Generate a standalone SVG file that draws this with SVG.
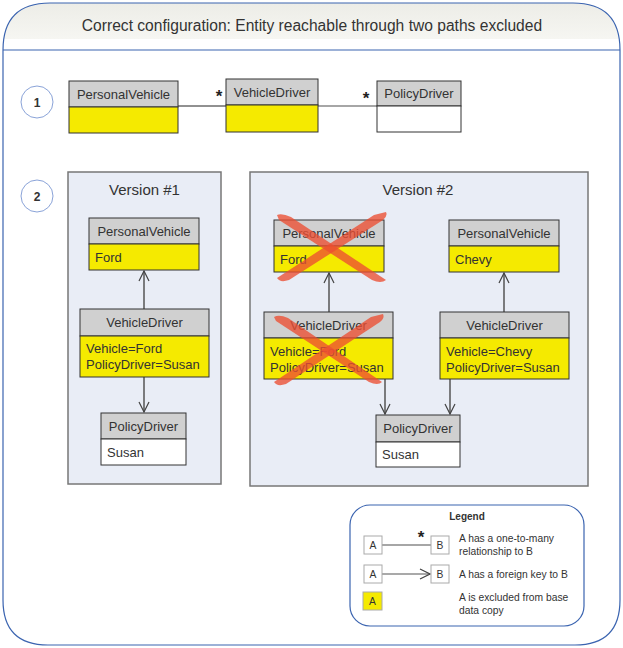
<svg xmlns="http://www.w3.org/2000/svg" width="623" height="648" viewBox="0 0 623 648">
<defs>
<linearGradient id="hg" x1="0" y1="0" x2="0" y2="1">
<stop offset="0" stop-color="#ececE6"/>
<stop offset="1" stop-color="#f6f6f2"/>
</linearGradient>
<clipPath id="fc">
<path d="M3,600 L3,50 Q3,3 50,3 L573,3 Q620,3 620,50 L620,600 Q620,645 575,645 L48,645 Q3,645 3,600 Z"/>
</clipPath>
<marker id="arr" viewBox="0 0 12 12" refX="11" refY="6" markerWidth="12" markerHeight="12" markerUnits="userSpaceOnUse" orient="auto">
<path d="M1,1 L11,6 L1,11" fill="none" stroke="#444" stroke-width="1.2"/>
</marker>
</defs>
<style>
text{font-family:"Liberation Sans",Arial,sans-serif;fill:#333}
.hd{fill:#d0d0d0;stroke:#333;stroke-width:1}
.yb{fill:#f5ea00;stroke:#333;stroke-width:1}
.wb{fill:#fff;stroke:#333;stroke-width:1}
.ver{fill:#e9edf6;stroke:#777;stroke-width:1.5}
.ht{font-size:13px;text-anchor:middle}
.bt{font-size:13px}
.con{stroke:#555;stroke-width:1.5;fill:none}
.num{fill:#fff;stroke:#8aa3d8;stroke-width:1}
.cross{fill:#ec4e32;fill-opacity:0.78}
.lg{font-size:10.3px}
.lb{fill:#fff;stroke:#aaa;stroke-width:1}
.star{font-size:17px;font-weight:bold;fill:#222;text-anchor:middle}
</style>

<g id="frame">
<rect x="0" y="0" width="623" height="39" fill="url(#hg)" clip-path="url(#fc)"/>
<path d="M3,600 L3,50 Q3,3 50,3 L573,3 Q620,3 620,50 L620,600 Q620,645 575,645 L48,645 Q3,645 3,600 Z" fill="none" stroke="#3b64b0" stroke-width="1.2"/>
<line x1="3" y1="50" x2="620" y2="50" stroke="#3b64b0" stroke-width="1.2"/>
<text x="312" y="31" font-size="15.6" text-anchor="middle" fill="#222">Correct configuration: Entity reachable through two paths excluded</text>
</g>

<g id="step1">
<circle class="num" cx="37" cy="102" r="16"/>
<text x="37" y="106.5" font-size="12" font-weight="bold" text-anchor="middle" fill="#222">1</text>
</g>
<g id="step2">
<circle class="num" cx="37" cy="196" r="16"/>
<text x="37" y="200.5" font-size="12" font-weight="bold" text-anchor="middle" fill="#222">2</text>
</g>

<g id="version1">
<rect class="ver" x="68" y="172" width="153" height="312"/>
<text x="144.5" y="195" font-size="15" text-anchor="middle">Version #1</text>
</g>
<g id="version2">
<rect class="ver" x="250" y="172" width="338" height="314"/>
<text x="418" y="195" font-size="15" text-anchor="middle">Version #2</text>
</g>

<g id="connectors">
<line x1="178" y1="106" x2="226" y2="106" stroke="#222" stroke-width="1"/>
<line x1="318" y1="106" x2="377" y2="106" stroke="#888" stroke-width="1.5"/>
<text class="star" x="219" y="102">*</text>
<text class="star" x="366" y="104">*</text>
<line class="con" x1="144" y1="309" x2="144" y2="271" marker-end="url(#arr)"/>
<line class="con" x1="144" y1="377" x2="144" y2="412" marker-end="url(#arr)"/>
<line class="con" x1="329" y1="312" x2="329" y2="273" marker-end="url(#arr)"/>
<line class="con" x1="504" y1="312" x2="504" y2="273" marker-end="url(#arr)"/>
<line class="con" x1="385" y1="379" x2="385" y2="414" marker-end="url(#arr)"/>
<line class="con" x1="450" y1="379" x2="450" y2="414" marker-end="url(#arr)"/>
</g>

<g id="r1-pv">
<rect class="hd" x="69" y="81" width="109" height="26"/>
<rect class="yb" x="69" y="107" width="109" height="26"/>
<text class="ht" x="123.5" y="99">PersonalVehicle</text>
</g>
<g id="r1-vd">
<rect class="hd" x="226" y="79" width="92" height="26"/>
<rect class="yb" x="226" y="105" width="92" height="27"/>
<text class="ht" x="272" y="97">VehicleDriver</text>
</g>
<g id="r1-pd">
<rect class="hd" x="377" y="81" width="84" height="25"/>
<rect class="wb" x="377" y="106" width="84" height="26"/>
<text class="ht" x="419" y="98">PolicyDriver</text>
</g>

<g id="v1-pv">
<rect class="hd" x="89" y="218" width="110" height="26"/>
<rect class="yb" x="89" y="244" width="110" height="26"/>
<text class="ht" x="144" y="235.5">PersonalVehicle</text>
<text class="bt" x="95" y="261.5">Ford</text>
</g>
<g id="v1-vd">
<rect class="hd" x="80" y="309" width="129" height="27"/>
<rect class="yb" x="80" y="336" width="129" height="41"/>
<text class="ht" x="144.5" y="327">VehicleDriver</text>
<text class="bt" x="86" y="352.5">Vehicle=Ford</text>
<text class="bt" x="86" y="368.5">PolicyDriver=Susan</text>
</g>
<g id="v1-pd">
<rect class="hd" x="101" y="413" width="85" height="26"/>
<rect class="wb" x="101" y="439" width="85" height="26"/>
<text class="ht" x="143.5" y="430.5">PolicyDriver</text>
<text class="bt" x="107" y="456.5">Susan</text>
</g>

<g id="v2-pv-ford">
<rect class="hd" x="274" y="220" width="110" height="26"/>
<rect class="yb" x="274" y="246" width="110" height="26"/>
<text class="ht" x="329" y="237.5">PersonalVehicle</text>
<text class="bt" x="280" y="263.5">Ford</text>
</g>
<g id="v2-pv-chevy">
<rect class="hd" x="449" y="220" width="110" height="26"/>
<rect class="yb" x="449" y="246" width="110" height="26"/>
<text class="ht" x="504" y="237.5">PersonalVehicle</text>
<text class="bt" x="455" y="263.5">Chevy</text>
</g>
<g id="v2-vd-ford">
<rect class="hd" x="264" y="312" width="129" height="26"/>
<rect class="yb" x="264" y="338" width="129" height="41"/>
<text class="ht" x="328.5" y="329.5">VehicleDriver</text>
<text class="bt" x="270" y="355.5">Vehicle=Ford</text>
<text class="bt" x="270" y="371.5">PolicyDriver=Susan</text>
</g>
<g id="v2-vd-chevy">
<rect class="hd" x="440" y="312" width="129" height="26"/>
<rect class="yb" x="440" y="338" width="129" height="41"/>
<text class="ht" x="504.5" y="329.5">VehicleDriver</text>
<text class="bt" x="446" y="355.5">Vehicle=Chevy</text>
<text class="bt" x="446" y="371.5">PolicyDriver=Susan</text>
</g>
<g id="v2-pd">
<rect class="hd" x="376" y="415" width="84" height="27"/>
<rect class="wb" x="376" y="442" width="84" height="25"/>
<text class="ht" x="418" y="432.5">PolicyDriver</text>
<text class="bt" x="382" y="458.5">Susan</text>
</g>

<g id="cross-pv">
<path class="cross" d="M277,215 Q282,213 291,217 L386,280 Q381,284 372,280 L279,220 Z"/>
<path class="cross" d="M386,212 Q388,216 383,220 L289,280 Q280,283 277,278 L374,215 Z"/>
</g>
<g id="cross-vd">
<path class="cross" d="M274,317 Q279,314 288,318 L382,382 Q378,386 369,382 L276,321 Z"/>
<path class="cross" d="M383,314 Q385,318 380,322 L286,384 Q277,387 274,382 L371,317 Z"/>
</g>

<g id="legend">
<rect x="350" y="505" width="234" height="121" rx="20" ry="20" fill="#fff" stroke="#3b64b0" stroke-width="1.2"/>
<text x="467" y="520" font-size="10" font-weight="bold" text-anchor="middle" fill="#222">Legend</text>
<line x1="382" y1="545" x2="431" y2="545" stroke="#888" stroke-width="1.5"/>
<text class="star" x="421" y="543" font-size="15">*</text>
<rect class="lb" x="364" y="536" width="18" height="18"/>
<text class="lg" x="373" y="549" text-anchor="middle">A</text>
<rect class="lb" x="431" y="536" width="18" height="18"/>
<text class="lg" x="440" y="549" text-anchor="middle">B</text>
<text class="lg" x="459" y="542">A has a one-to-many</text>
<text class="lg" x="459" y="555">relationship to B</text>
<line x1="382" y1="574" x2="430" y2="574" stroke="#555" stroke-width="1.2" marker-end="url(#arr)"/>
<rect class="lb" x="364" y="565" width="18" height="18"/>
<text class="lg" x="373" y="578" text-anchor="middle">A</text>
<rect class="lb" x="431" y="565" width="18" height="18"/>
<text class="lg" x="440" y="578" text-anchor="middle">B</text>
<text class="lg" x="459" y="578">A has a foreign key to B</text>
<rect x="363" y="592" width="19" height="18" fill="#f5ea00" stroke="#aaa" stroke-width="1"/>
<text class="lg" x="372.5" y="605" text-anchor="middle">A</text>
<text class="lg" x="459" y="601">A is excluded from base</text>
<text class="lg" x="459" y="614">data copy</text>
</g>
</svg>
